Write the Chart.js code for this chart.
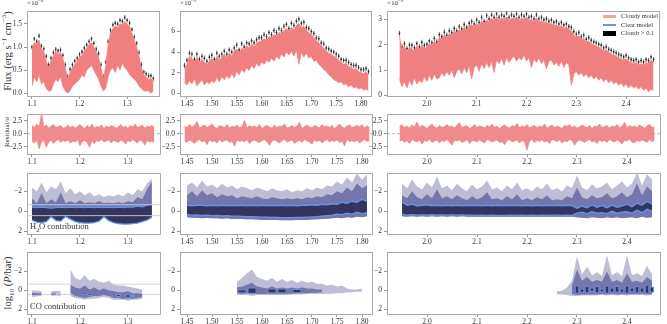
<!DOCTYPE html>
<html>
<head>
<meta charset="utf-8">
<script src="https://cdn.jsdelivr.net/npm/chart.js@4.4.1/dist/chart.umd.min.js"></script>
<style>
body{margin:0;background:#fff;}
#fig{position:relative;width:667px;height:324px;overflow:hidden;font-family:'Liberation Serif',serif;color:#333;background:#fff;}
canvas{position:absolute;}
.lab{position:absolute;white-space:nowrap;line-height:1;color:#333;}
.rot{transform:translate(-50%,-50%) rotate(-90deg);}
sup,sub{font-size:68%;line-height:0;}
.leg{position:absolute;left:603px;top:12px;font-size:6.5px;line-height:8.5px;color:#333;}
.leg div{display:flex;align-items:center;height:8.5px;}
.leg span.sw{display:inline-block;width:13px;margin-right:5px;}
</style>
</head>
<body>
<div id="fig">
  <div class="lab rot" style="left:8px;top:51px;font-size:10.5px;">Flux (erg s<sup>−1</sup> cm<sup>−3</sup>)</div>
  <div class="lab rot" style="left:7px;top:132px;font-size:7px;">Residual/<i>σ</i></div>
  <div class="lab rot" style="left:8px;top:283px;font-size:10.5px;">log<sub>10</sub> (<i>P</i>/bar)</div>
  <div class="lab" style="left:27px;top:0px;font-size:7px;">×10<sup>−8</sup></div>
  <div class="lab" style="left:180px;top:0px;font-size:7px;">×10<sup>−9</sup></div>
  <div class="lab" style="left:387px;top:0px;font-size:7px;">×10<sup>−9</sup></div>
  <div class="lab" style="left:30px;top:222px;font-size:8.5px;z-index:5;">H<sub>2</sub>O contribution</div>
  <div class="lab" style="left:30px;top:302px;font-size:8.5px;z-index:5;">CO contribution</div>
  <div class="leg" style="z-index:5;">
    <div><span class="sw" style="height:2.5px;background:#f4a4a4;"></span>Cloudy model</div>
    <div><span class="sw" style="height:1.5px;background:#6495ed;"></span>Clear model</div>
    <div><span class="sw" style="height:5px;background:#000;"></span>Cloud <i>τ</i>&nbsp;&gt;&nbsp;0.1</div>
  </div>
</div>
<script>
// ---- wavelength grids (micron) ----
const fluxStart = [1.100, 1.445, 1.945];
const fluxStep = 0.005;
const contribStart = [1.10, 1.45, 1.95];
const contribStep = 0.01;

// ---- flux: model band (upper / lower) and observed points ----
// col 1 in 1e-8, cols 2-3 in 1e-9 erg/s/cm^3
const modelHi1 = [0.95,1.10,1.05,1.15,0.95,0.90,0.70,0.55,0.70,0.80,0.90,0.85,0.88,0.75,0.55,0.30,0.45,0.55,0.62,0.70,0.78,0.82,0.92,0.98,1.05,1.10,1.00,0.90,0.78,0.55,0.30,0.60,1.05,1.30,1.40,1.45,1.42,1.50,1.48,1.55,1.50,1.45,1.30,1.15,1.00,0.80,0.55,0.40,0.35,0.30,0.32,0.25];
const modelLo1 = [0.15,0.35,0.25,0.40,0.20,0.25,0.10,0.05,0.05,0.20,0.30,0.25,0.35,0.15,0.05,0.00,0.05,0.15,0.20,0.25,0.30,0.40,0.35,0.50,0.55,0.60,0.50,0.40,0.30,0.15,0.05,0.10,0.35,0.50,0.55,0.45,0.60,0.50,0.65,0.55,0.50,0.40,0.35,0.30,0.25,0.15,0.10,0.05,0.05,0.05,0.00,0.05];
const obs1 = [1.00,1.18,1.12,1.24,1.02,0.96,0.80,0.62,0.76,0.88,0.95,0.92,0.94,0.82,0.62,0.36,0.52,0.62,0.70,0.76,0.84,0.90,0.98,1.05,1.12,1.18,1.08,0.96,0.86,0.62,0.36,0.68,1.12,1.36,1.48,1.52,1.50,1.58,1.56,1.64,1.58,1.52,1.38,1.22,1.08,0.88,0.62,0.46,0.42,0.38,0.38,0.32];

const modelHi2 = [2.3,2.8,3.6,3.4,3.0,3.5,2.9,3.3,3.0,2.8, 3.1,3.4,2.9,3.6,3.2,3.5,3.8,3.4,3.9,3.6, 4.1,4.3,3.9,4.4,4.2,4.6,4.4,4.8,4.5,4.9, 5.0,5.1,5.3,5.2,5.5,5.4,5.7,5.6,5.9,5.8, 6.1,6.3,6.0,6.4,6.2,6.6,6.8,6.4,6.5,6.1, 5.9,5.7,5.4,5.1,4.9,4.6,4.4,4.1,3.9,3.8, 3.6,3.5,3.2,3.0,2.8,2.9,2.6,2.5,2.3,2.4, 2.1,2.0,1.9,2.1,1.8];
const modelLo2 = [1.0,0.8,1.2,0.9,1.4,0.7,1.0,1.3,0.8,1.1, 0.9,1.2,1.0,1.5,1.1,1.6,1.3,1.7,1.4,1.9, 1.5,2.1,1.8,2.3,2.0,2.5,2.2,2.7,2.4,2.9, 2.6,3.0,2.8,3.2,3.0,3.4,3.1,3.6,3.3,3.8, 3.5,4.0,3.7,4.1,3.6,4.2,2.8,4.0,3.5,3.9, 3.4,3.6,3.1,3.2,2.8,2.6,2.3,2.1,1.8,1.6, 1.3,1.2,1.0,1.1,0.8,0.9,0.6,0.8,0.5,0.6, 0.4,0.5,0.3,0.4,0.2];
const obs2 = [2.7,3.2,3.9,3.8,3.3,3.8,3.3,3.6,3.4,3.1, 3.5,3.7,3.3,3.9,3.6,3.8,4.1,3.8,4.2,4.0, 4.4,4.7,4.2,4.8,4.5,4.9,4.8,5.1,4.9,5.2, 5.4,5.4,5.7,5.5,5.9,5.7,6.1,5.9,6.3,6.1, 6.5,6.7,6.3,6.8,6.6,7.0,7.2,6.8,6.9,6.4, 6.3,6.0,5.8,5.4,5.3,4.9,4.8,4.4,4.3,4.1, 4.0,3.8,3.6,3.3,3.2,3.2,3.0,2.8,2.7,2.7, 2.5,2.3,2.3,2.4,2.1];

const modelHi3 = [2.35,1.80,1.95,1.70,1.90,1.85,1.75,1.95,1.80,2.00, 1.85,1.90,2.05,1.95,2.15,2.00,2.30,2.20,2.40,2.25, 2.45,2.35,2.55,2.45,2.60,2.50,2.70,2.55,2.75,2.80, 2.70,2.85,2.75,2.95,2.80,3.00,2.90,3.05,2.95,3.10, 2.95,3.05,3.00,3.10,2.95,3.05,3.00,3.10,2.95,3.05, 3.00,3.10,2.95,3.00,2.90,3.05,2.90,2.95,2.85,2.90, 2.80,2.85,2.75,2.80,2.70,2.75,2.65,2.70,2.60,2.55, 2.40,2.30,2.35,2.20,2.25,2.10,2.15,2.05,2.00,1.95, 1.90,1.85,1.75,1.80,1.70,1.65,1.60,1.55,1.50,1.45, 1.40,1.45,1.35,1.30,1.25,1.30,1.20,1.25,1.20,1.30, 1.25,1.40,1.30];
const modelLo3 = [0.65,0.35,0.55,0.30,0.60,0.40,0.70,0.45,0.60,0.50, 0.75,0.55,0.80,0.60,0.85,0.65,0.70,0.90,0.75,0.95, 0.80,1.00,0.70,0.95,1.05,0.85,1.10,0.90,1.15,0.65, 1.10,1.20,0.95,1.25,1.05,1.30,1.10,1.35,0.90,1.40, 1.25,1.45,1.20,1.50,1.30,1.45,1.55,1.35,1.50,1.40, 1.60,1.35,1.50,1.10,1.45,1.30,1.50,1.25,1.40,1.05, 1.35,1.40,1.20,1.30,1.15,1.35,1.10,1.30,1.20,0.40, 0.85,0.95,0.80,0.90,0.75,0.85,0.70,0.80,0.65,0.75, 0.60,0.70,0.55,0.65,0.50,0.60,0.45,0.55,0.40,0.50, 0.35,0.45,0.30,0.40,0.30,0.35,0.25,0.35,0.20,0.30, 0.15,0.25,0.20];
const obs3 = [2.45,1.92,2.05,1.85,2.00,1.98,1.88,2.05,1.92,2.10, 1.98,2.02,2.15,2.08,2.25,2.12,2.40,2.32,2.50,2.38, 2.55,2.48,2.65,2.55,2.72,2.62,2.80,2.68,2.85,2.92, 2.82,2.98,2.88,3.08,2.92,3.15,3.02,3.18,3.08,3.22, 3.08,3.18,3.12,3.25,3.08,3.18,3.12,3.22,3.08,3.18, 3.12,3.22,3.08,3.12,3.02,3.18,3.02,3.08,2.98,3.02, 2.92,2.98,2.88,2.92,2.82,2.88,2.78,2.82,2.72,2.68, 2.52,2.42,2.48,2.32,2.38,2.22,2.28,2.18,2.12,2.08, 2.02,1.98,1.88,1.92,1.82,1.78,1.72,1.68,1.62,1.58, 1.52,1.58,1.48,1.42,1.38,1.42,1.32,1.38,1.32,1.42, 1.38,1.52,1.42];
const obsErr = [0.05, 0.25, 0.1];

// ---- residual / sigma (band upper / lower) ----
const resHi1 = [1.6,1.2,1.9,1.4,3.9,1.3,1.7,1.1,1.5,1.8, 1.2,1.4,1.6,1.0,1.3,1.7,1.2,1.5,1.1,1.4, 1.8,1.3,1.0,1.6,1.2,1.9,1.1,1.4,1.3,1.7, 1.0,1.5,1.2,1.6,1.4,1.1,1.3,1.8,1.2,1.5, 1.0,1.6,1.3,1.9,1.2,1.4,1.7,1.1,1.5,1.3, 1.6,1.2];
const resLo1 = [-1.4,-1.8,-1.2,-2.9,-1.5,-1.3,-2.6,-1.6,-1.2,-1.9, -1.4,-1.1,-1.7,-1.3,-1.5,-1.2,-1.8,-1.4,-1.6,-1.1, -2.3,-1.5,-1.3,-1.7,-2.6,-1.4,-1.9,-1.3,-1.5,-1.1, -1.6,-1.4,-1.2,-1.8,-1.3,-1.5,-1.7,-1.2,-1.4,-2.0, -1.3,-1.6,-1.1,-1.5,-1.8,-1.2,-1.4,-2.2,-1.3,-1.6, -1.4,-1.7];
const resHi2 = [1.5,1.2,1.8,1.3,1.6,2.4,1.1,1.4,1.7,1.2, 1.5,1.9,1.3,1.0,1.6,1.4,1.2,1.8,1.1,1.5, 1.3,1.7,1.2,1.4,2.6,1.1,1.6,1.3,1.5,1.2, 1.8,1.0,1.4,1.6,1.3,1.1,1.7,1.2,1.5,1.4, 1.9,1.1,1.3,1.6,1.2,1.5,2.2,1.0,1.4,1.7, 1.3,1.2,1.6,1.4,1.1,1.8,1.3,1.5,1.2,1.6, 1.0,1.4,1.9,1.3,1.1,1.5,1.7,1.2,1.4,1.6, 1.3,1.8,1.1,1.5,1.3];
const resLo2 = [-1.3,-1.7,-1.2,-1.5,-1.9,-1.4,-1.1,-1.6,-1.3,-2.1, -1.2,-1.5,-1.4,-1.8,-1.1,-1.6,-1.3,-1.2,-1.7,-1.4, -2.4,-1.2,-1.5,-1.3,-1.6,-1.1,-1.9,-1.4,-1.2,-1.5, -1.7,-1.3,-1.1,-1.6,-2.2,-1.4,-1.2,-1.5,-1.8,-1.3, -1.1,-1.6,-1.4,-1.2,-1.9,-1.5,-1.3,-1.7,-1.1,-1.4, -1.6,-2.0,-1.2,-1.5,-1.3,-1.8,-1.4,-1.1,-1.6,-1.3, -1.5,-1.2,-1.7,-1.4,-2.3,-1.1,-1.5,-1.3,-1.6,-1.2, -1.8,-1.4,-1.1,-1.5,-1.3];
const resHi3 = [1.4,1.8,1.2,1.5,1.1,1.7,1.3,2.3,1.2,1.6, 1.4,1.0,1.5,1.9,1.3,1.1,1.6,1.2,1.4,1.8, 1.3,1.5,1.1,1.7,2.1,1.2,1.4,1.6,1.0,1.3, 1.8,1.2,1.5,1.4,1.1,1.6,1.3,1.9,1.2,1.5, 1.0,1.4,1.7,1.3,1.1,1.6,1.4,2.0,1.2,1.5, 1.3,1.8,1.1,1.4,1.6,1.2,1.5,1.3,1.9,1.1, 1.4,1.7,1.2,1.5,1.3,1.0,1.6,1.4,1.8,1.2, 1.5,1.1,1.3,1.7,1.4,1.2,1.6,1.0,1.5,1.3, 1.9,1.2,1.4,1.6,1.1,1.5,1.3,1.8,1.2,1.4, 2.2,1.1,1.6,1.3,1.5,1.2,1.7,1.4,1.1,1.5, 1.8,1.3,1.2];
const resLo3 = [-1.5,-1.2,-1.7,-1.3,-1.9,-1.1,-1.4,-1.6,-1.2,-2.0, -1.3,-1.5,-1.1,-1.7,-1.4,-1.2,-1.8,-1.3,-1.5,-1.1, -1.6,-2.2,-1.3,-1.4,-1.2,-1.7,-1.5,-1.1,-1.9,-1.3, -1.4,-1.6,-1.2,-1.5,-1.8,-1.1,-1.3,-1.6,-1.4,-1.2, -1.7,-1.5,-2.1,-1.3,-1.1,-1.6,-1.4,-1.2,-1.8,-1.3, -1.5,-3.2,-1.4,-1.1,-1.7,-1.3,-1.5,-1.2,-1.6,-1.4, -1.9,-1.1,-1.3,-1.5,-1.2,-1.8,-1.4,-1.6,-1.1,-1.3, -2.2,-1.5,-1.2,-1.4,-1.7,-1.3,-1.1,-1.6,-1.4,-1.9, -1.2,-1.5,-1.3,-1.7,-1.1,-1.4,-1.6,-1.2,-1.5,-2.0, -1.3,-1.4,-1.1,-1.6,-1.8,-1.3,-1.5,-1.2,-1.4,-1.7, -1.1,-1.5,-1.3];

// ---- H2O contribution, log10(P/bar): outer / middle / core band edges ----
const h2oOuterTop1 = [-2.4,-2.0,-2.9,-1.9,-2.5,-2.2,-3.0,-1.8,-2.3,-1.7, -2.0,-1.6,-1.9,-1.5,-1.7,-1.4,-1.6,-1.5,-1.7,-1.5, -1.9,-1.6,-2.2,-2.0,-2.8,-3.3];
const h2oMidTop1 = [-1.3,-0.8,-1.8,-0.8,-1.2,-0.9,-1.9,-0.8,-1.0,-0.8, -1.1,-0.8,-0.9,-0.8,-1.0,-0.8,-0.85,-0.8,-0.9,-0.8, -1.0,-0.9,-1.4,-1.2,-2.2,-3.0];
const h2oCoreTop1 = [-0.4,-0.35,-0.4,-0.35,-0.3,-0.35,-0.4,-0.35,-0.4,-0.35, -0.4,-0.35,-0.4,-0.35,-0.4,-0.35,-0.4,-0.35,-0.4,-0.35, -0.4,-0.4,-0.5,-0.45,-0.6,-0.7];
const h2oCoreBot1 = [0.9,1.1,1.15,1.05,0.55,0.95,1.0,0.55,0.8,1.05, 1.15,1.2,1.2,1.15,1.0,0.55,0.95,1.15,1.25,1.3, 1.3,1.25,1.2,1.05,0.9,0.6];
const h2oMidBot1 = h2oCoreBot1;

const h2oOuterTop2 = [-2.6,-2.9,-2.4,-3.1,-2.5,-2.7,-2.3,-2.8,-2.4,-2.6, -2.2,-2.5,-2.3,-2.1,-2.4,-2.2,-2.0,-2.3,-2.1,-2.0, -2.2,-1.9,-2.1,-2.0,-2.3,-2.1,-2.4,-2.2,-2.6,-2.5, -3.0,-2.7,-3.4,-2.9,-3.8,-3.2,-3.7];
const h2oMidTop2 = [-1.6,-2.0,-1.5,-2.1,-1.6,-1.8,-1.4,-1.7,-1.5,-1.6, -1.3,-1.5,-1.4,-1.3,-1.5,-1.3,-1.2,-1.4,-1.3,-1.2, -1.3,-1.2,-1.3,-1.2,-1.4,-1.3,-1.5,-1.4,-1.7,-1.6, -2.0,-1.8,-2.4,-2.0,-2.8,-2.3,-2.6];
const h2oCoreTop2 = [-0.6,-0.55,-0.6,-0.6,-0.55,-0.6,-0.55,-0.6,-0.55,-0.6, -0.55,-0.6,-0.55,-0.6,-0.55,-0.6,-0.55,-0.6,-0.55,-0.6, -0.55,-0.6,-0.55,-0.6,-0.6,-0.65,-0.6,-0.7,-0.65,-0.75, -0.7,-0.9,-0.8,-1.0,-0.9,-1.2,-1.0];
const h2oCoreBot2 = [0.35,0.4,0.38,0.42,0.4,0.45,0.42,0.48,0.45,0.5, 0.5,0.52,0.55,0.55,0.58,0.6,0.6,0.62,0.62,0.65, 0.65,0.65,0.62,0.62,0.6,0.58,0.55,0.5,0.45,0.4, 0.3,0.35,0.2,0.3,0.1,0.25,0.15];
const h2oMidBot2 = [0.6,0.65,0.65,0.7,0.68,0.72,0.7,0.75,0.72,0.78, 0.78,0.8,0.82,0.82,0.85,0.88,0.88,0.9,0.9,0.92, 0.92,0.92,0.9,0.9,0.88,0.85,0.82,0.78,0.75,0.7, 0.65,0.7,0.6,0.65,0.55,0.6,0.5];

const h2oOuterTop3 = [-2.8,-2.3,-3.2,-2.5,-2.2,-2.9,-2.4,-3.5,-2.3,-2.6, -2.1,-2.8,-2.3,-2.0,-2.7,-2.2,-2.5,-3.1,-2.2,-2.4, -2.0,-2.6,-2.2,-2.9,-2.1,-2.3,-2.0,-2.5,-2.2,-2.8, -2.1,-2.3,-2.0,-2.6,-2.3,-3.6,-2.4,-2.1,-2.7,-2.3, -2.5,-2.9,-2.2,-2.6,-3.0,-2.4,-2.8,-3.9,-2.6,-3.7, -3.2];
const h2oMidTop3 = [-1.6,-1.3,-2.0,-1.4,-1.2,-1.7,-1.3,-2.2,-1.3,-1.5, -1.2,-1.6,-1.3,-1.1,-1.5,-1.2,-1.4,-1.9,-1.2,-1.3, -1.1,-1.5,-1.2,-1.7,-1.1,-1.3,-1.1,-1.4,-1.2,-1.6, -1.1,-1.2,-1.1,-1.5,-1.3,-2.4,-1.4,-1.2,-1.6,-1.3, -1.4,-1.8,-1.3,-1.5,-1.9,-1.4,-1.7,-2.8,-1.6,-2.5, -2.0];
const h2oCoreTop3 = [-0.9,-0.6,-0.7,-0.55,-0.6,-0.65,-0.55,-0.6,-0.55,-0.6, -0.55,-0.6,-0.55,-0.6,-0.55,-0.6,-0.55,-0.6,-0.55,-0.6, -0.55,-0.6,-0.55,-0.6,-0.55,-0.6,-0.55,-0.6,-0.55,-0.6, -0.55,-0.6,-0.55,-0.6,-0.55,-0.3,-0.5,-0.35,-0.6,-0.4, -0.55,-0.35,-0.6,-0.4,-0.5,-0.7,-0.45,-0.8,-0.6,-1.0, -0.7];
const h2oCoreBot3 = [0.3,0.4,0.35,0.4,0.38,0.4,0.36,0.4,0.38,0.4, 0.38,0.4,0.38,0.4,0.4,0.42,0.4,0.42,0.4,0.42, 0.42,0.42,0.4,0.42,0.4,0.42,0.4,0.42,0.4,0.42, 0.4,0.4,0.42,0.4,0.42,0.2,0.1,0.25,0.05,0.2, 0.15,0.25,0.0,0.2,0.1,0.05,0.2,-0.1,0.15,-0.2, 0.0];
const h2oMidBot3 = [0.5,0.55,0.5,0.55,0.52,0.55,0.5,0.55,0.52,0.55, 0.52,0.55,0.52,0.55,0.55,0.57,0.55,0.57,0.55,0.57, 0.57,0.57,0.55,0.57,0.55,0.57,0.55,0.57,0.55,0.57, 0.55,0.55,0.57,0.55,0.57,0.6,0.65,0.7,0.6,0.65, 0.7,0.62,0.68,0.6,0.7,0.65,0.6,0.7,0.55,0.65, 0.6];

// ---- CO contribution: [top, bottom] per wavelength, null = no contribution ----
const gap = n => Array(n).fill(null);
const coOuter1 = [[0.0,0.7],[0.05,0.65],[0.1,0.6],null,[0.1,0.6],[0.05,0.55],[0.1,0.6],null,[-2.2,0.6],[-1.3,0.8],[-1.1,0.9],[-1.6,1.0],[-1.0,0.9],[-1.2,0.9],[-0.9,0.8],[-0.8,0.7],[-1.0,0.8],[-0.6,1.0],[-0.5,1.0],[-0.5,1.0],[-0.4,1.1],[-0.3,1.0],[-0.2,1.0],[-0.1,0.9],null];
const coMid1 = [[0.25,0.5],[0.3,0.5],[0.3,0.5],null,[0.3,0.45],[0.3,0.45],null,null,[-0.6,0.3],[-0.3,0.6],[-0.2,0.7],[-0.5,0.8],[-0.1,0.7],[-0.3,0.6],[0.0,0.6],[-0.2,0.5],[0.0,0.6],[0.1,0.8],[0.2,0.8],[0.2,0.9],[0.1,0.9],[0.3,0.9],[0.3,0.8],[0.4,0.7],null];
const coCore1 = [...gap(11),[0.2,0.5],[0.3,0.6],...gap(5),[0.4,0.7],null,[0.4,0.8],[0.5,0.7],...gap(3)];
const coOuter2 = [...gap(10),[-0.9,0.5],[-1.3,0.5],[-1.8,0.5],[-2.2,0.6],[-1.4,0.5],[-1.2,0.5],[-1.0,0.5],[-1.3,0.5],[-0.9,0.5],[-1.2,0.5],[-0.9,0.5],[-1.1,0.45],[-0.8,0.45],[-1.0,0.45],[-0.8,0.4],[-0.9,0.4],[-0.7,0.4],[-0.7,0.4],[-0.5,0.35],[-0.6,0.35],[-0.4,0.3],[-0.5,0.3],[-0.2,0.2],[-0.1,0.2],[-0.1,0.15],[-0.2,0.15],null];
const coMid2 = [...gap(10),[-0.3,0.3],[-0.4,0.4],[-0.6,0.3],[-0.8,0.4],[-0.4,0.4],[-0.3,0.4],[-0.2,0.35],[-0.4,0.4],[-0.2,0.35],[-0.3,0.4],[-0.2,0.35],[-0.3,0.35],[-0.2,0.3],[-0.3,0.3],[-0.2,0.3],[-0.2,0.25],[-0.1,0.25],[-0.1,0.2],...gap(9)];
const coCore2 = [...gap(11),[-0.1,0.3],null,[-0.3,0.35],...gap(3),[-0.2,0.3],null,[-0.2,0.3],null,null,[-0.15,0.3],...gap(14)];
const coOuter3 = [...gap(31),[0.1,0.45],[0.05,0.45],[-0.3,0.5],[-1.0,0.6],[-3.6,0.6],[-1.7,0.55],[-2.5,0.55],[-1.6,0.55],[-1.9,0.55],[-1.5,0.5],[-3.7,0.55],[-1.6,0.5],[-1.9,0.55],[-1.5,0.5],[-3.7,0.55],[-1.6,0.5],[-1.8,0.5],[-1.5,0.5],[-2.6,0.55],[-1.7,0.5]];
const coMid3 = [...gap(34),[-0.5,0.4],[-2.2,0.5],[-1.0,0.45],[-1.4,0.45],[-0.9,0.45],[-1.1,0.45],[-0.9,0.4],[-2.0,0.45],[-0.9,0.4],[-1.1,0.45],[-0.8,0.4],[-1.8,0.45],[-0.9,0.4],[-1.0,0.4],[-0.8,0.4],[-1.4,0.45],[-1.0,0.4]];
const coCore3 = [...gap(35),[-0.5,0.35],[-0.2,0.25],[-0.45,0.3],[-0.3,0.15],[-0.45,0.3],[-0.2,0.2],[-0.5,0.35],[-0.3,0.25],[-0.45,0.25],[-0.2,0.25],[-0.5,0.35],[-0.3,0.2],[-0.45,0.3],[-0.3,0.25],[-0.6,0.35],[-0.4,0.25]];

// two pressure levels marked in the first column
const cloudLevels = [-0.65, 0.45];

// ---- axes ----
const xRange = [[1.0896, 1.369], [1.436, 1.822], [1.92, 2.468]];
const xTicks = [[1.1, 1.2, 1.3], [1.45, 1.50, 1.55, 1.60, 1.65, 1.70, 1.75, 1.80], [2.0, 2.1, 2.2, 2.3, 2.4]];
const xDigits = [1, 2, 1];
const fluxTicks = [[0, 0.5, 1.0, 1.5], [0, 2, 4, 6], [0, 1, 2, 3]];
const fluxRange = [[-0.06, 1.79], [-0.28, 8.04], [-0.02, 3.35]];
const resTicks = [-2.5, 0, 2.5];
const logPTicks = [-2, 0, 2];

// ---- layout (page pixels) ----
const colBox = [[27, 161], [180, 373], [387, 661]];
const rowBox = [[7, 96], [110, 154], [169, 234], [248, 314]];
const PAD_L = 26, PAD_T = 3, PAD_R = 3, PAD_B = 13;

const RED = '#f08080', OUTER = '#bdbdd5', MID = '#7676ae', CORE = '#34345e', BLUE = '#6495ed';

Chart.defaults.font.family = "'Liberation Serif', serif";
Chart.defaults.font.size = 7.5;
Chart.defaults.color = '#333';

const fig = document.getElementById('fig');

const framePlugin = {
  id: 'frame',
  afterDraw(chart) {
    const { ctx, chartArea: a } = chart;
    ctx.save();
    ctx.strokeStyle = '#aaa';
    ctx.lineWidth = 1;
    ctx.strokeRect(Math.round(a.left) + 0.5, Math.round(a.top) + 0.5, Math.round(a.right - a.left) - 1, Math.round(a.bottom - a.top) - 1);
    ctx.restore();
  }
};

function wl(start, step, i) {
  return Math.round((start + i * step) * 10000) / 10000;
}

function edge(start, step, vals, opts) {
  return Object.assign({
    type: 'line', data: vals.map((v, i) => ({ x: wl(start, step, i), y: v })),
    pointRadius: 0, borderColor: 'rgba(0,0,0,0)', borderWidth: 1, tension: 0, fill: false, spanGaps: false
  }, opts);
}

// upper edge filled down to the lower edge (two consecutive datasets)
function band(start, step, lo, hi, color, order, line) {
  return [
    edge(start, step, hi, { fill: '+1', backgroundColor: color, borderColor: line || 'rgba(0,0,0,0)', borderWidth: 0.7, order }),
    edge(start, step, lo, { borderColor: line || 'rgba(0,0,0,0)', borderWidth: 0.7, order })
  ];
}

const tops = pairs => pairs.map(p => (p ? p[0] : null));
const bots = pairs => pairs.map(p => (p ? p[1] : null));

function pairBars(start, step, pairs, color, order, extra) {
  const data = [];
  pairs.forEach((p, i) => { if (p) data.push({ x: wl(start, step, i), y: p }); });
  return Object.assign({ type: 'bar', data, backgroundColor: color, grouped: false, categoryPercentage: 1, barPercentage: 0.9, order }, extra || {});
}

function hLine(col, y, color, dash, order) {
  return {
    type: 'line', data: [{ x: xRange[col][0], y }, { x: xRange[col][1], y }],
    borderColor: color, borderWidth: 0.9, borderDash: dash, pointRadius: 0, fill: false, order
  };
}

function panel(col, row, datasets, y) {
  const [l, r] = colBox[col], [t, b] = rowBox[row];
  const w = r - l + PAD_L + PAD_R, h = b - t + PAD_T + PAD_B;
  const c = document.createElement('canvas');
  c.width = w; c.height = h;
  c.style.left = (l - PAD_L) + 'px'; c.style.top = (t - PAD_T) + 'px';
  c.style.width = w + 'px'; c.style.height = h + 'px';
  fig.appendChild(c);
  const tickGrid = { display: true, drawOnChartArea: false, drawTicks: true, tickLength: 3, color: '#999', offset: false };
  new Chart(c, {
    type: 'bar',
    data: { datasets },
    options: {
      responsive: false, animation: false, events: [],
      layout: { padding: { left: 0, top: PAD_T, right: PAD_R, bottom: 0 } },
      plugins: { legend: { display: false }, tooltip: { enabled: false } },
      scales: {
        x: {
          type: 'linear', min: xRange[col][0], max: xRange[col][1], offset: false,
          grid: tickGrid, border: { display: false },
          ticks: { padding: 1, maxRotation: 0, autoSkip: false, callback: v => v.toFixed(xDigits[col]) },
          afterBuildTicks: s => { s.ticks = xTicks[col].map(v => ({ value: v })); },
          afterFit: s => { s.height = PAD_B; }
        },
        y: {
          type: 'linear', min: y.min, max: y.max, reverse: !!y.reverse,
          grid: tickGrid, border: { display: false },
          ticks: { padding: 2, autoSkip: false, callback: y.fmt },
          afterBuildTicks: s => { s.ticks = y.ticks.map(v => ({ value: v })); },
          afterFit: s => { s.width = PAD_L; }
        }
      }
    },
    plugins: [framePlugin]
  });
}

const minus = s => s.replace('-', '\u2212');

// ---- row 1: flux ----
const modelHi = [modelHi1, modelHi2, modelHi3];
const modelLo = [modelLo1, modelLo2, modelLo3];
const obs = [obs1, obs2, obs3];
for (let c = 0; c < 3; c++) {
  const s = fluxStart[c], e = obsErr[c];
  panel(c, 0, [
    ...band(s, fluxStep, modelLo[c], modelHi[c], RED, 1, RED),
    { type: 'line', showLine: false, order: 2, pointRadius: 0.9, pointBorderWidth: 0, pointBackgroundColor: '#2a2a2a',
      data: obs[c].map((v, i) => ({ x: wl(s, fluxStep, i), y: v })) },
    { type: 'bar', order: 3, grouped: false, maxBarThickness: 1, backgroundColor: '#666',
      data: obs[c].map((v, i) => ({ x: wl(s, fluxStep, i), y: [v - e, v + e] })) }
  ], { min: fluxRange[c][0], max: fluxRange[c][1], ticks: fluxTicks[c], fmt: v => v.toFixed(c === 0 ? 1 : 0) });
}

// ---- row 2: residuals ----
const resHi = [resHi1, resHi2, resHi3];
const resLo = [resLo1, resLo2, resLo3];
for (let c = 0; c < 3; c++) {
  panel(c, 1, [
    ...band(fluxStart[c], fluxStep, resLo[c], resHi[c], 'rgba(240,128,128,0.92)', 1, 'rgba(240,128,128,0.92)'),
    hLine(c, 0, '#aaa', [3, 2], 5)
  ], { min: -3.9, max: 3.9, ticks: resTicks, fmt: v => minus(v.toFixed(1)) });
}

// ---- row 3: H2O contribution ----
const h2o = [
  [h2oOuterTop1, h2oMidTop1, h2oCoreTop1, h2oCoreBot1, h2oMidBot1],
  [h2oOuterTop2, h2oMidTop2, h2oCoreTop2, h2oCoreBot2, h2oMidBot2],
  [h2oOuterTop3, h2oMidTop3, h2oCoreTop3, h2oCoreBot3, h2oMidBot3]
];
for (let c = 0; c < 3; c++) {
  const s = contribStart[c], [ot, mt, ct, cb, mb] = h2o[c];
  const ds = [
    ...band(s, contribStep, mb, ot, OUTER, 10),
    ...band(s, contribStep, mb, mt, MID, 8),
    edge(s, contribStep, ct, { fill: '+1', backgroundColor: CORE, borderColor: BLUE, borderWidth: 1.3, order: 6 }),
    edge(s, contribStep, cb, { borderColor: BLUE, borderWidth: 1.3, order: 5 })
  ];
  if (c === 0) cloudLevels.forEach(v => ds.push(hLine(c, v, '#cfcfcf', [], 1)));
  panel(c, 2, ds, { min: -3.9, max: 2.3, reverse: true, ticks: logPTicks, fmt: v => minus(String(v)) });
}

// ---- row 4: CO contribution ----
const co = [[coOuter1, coMid1, coCore1], [coOuter2, coMid2, coCore2], [coOuter3, coMid3, coCore3]];
for (let c = 0; c < 3; c++) {
  const s = contribStart[c], [o, m, k] = co[c];
  const ds = [
    ...band(s, contribStep, bots(o), tops(o), OUTER, 10),
    ...band(s, contribStep, bots(m), tops(m), MID, 8),
    pairBars(s, contribStep, k, CORE, 6, { borderColor: BLUE, borderWidth: 1, borderSkipped: false })
  ];
  if (c === 0) cloudLevels.forEach(v => ds.push(hLine(c, v, '#cfcfcf', [], 12)));
  panel(c, 3, ds, { min: -4.1, max: 2.5, reverse: true, ticks: logPTicks, fmt: v => minus(String(v)) });
}
</script>
</body>
</html>
